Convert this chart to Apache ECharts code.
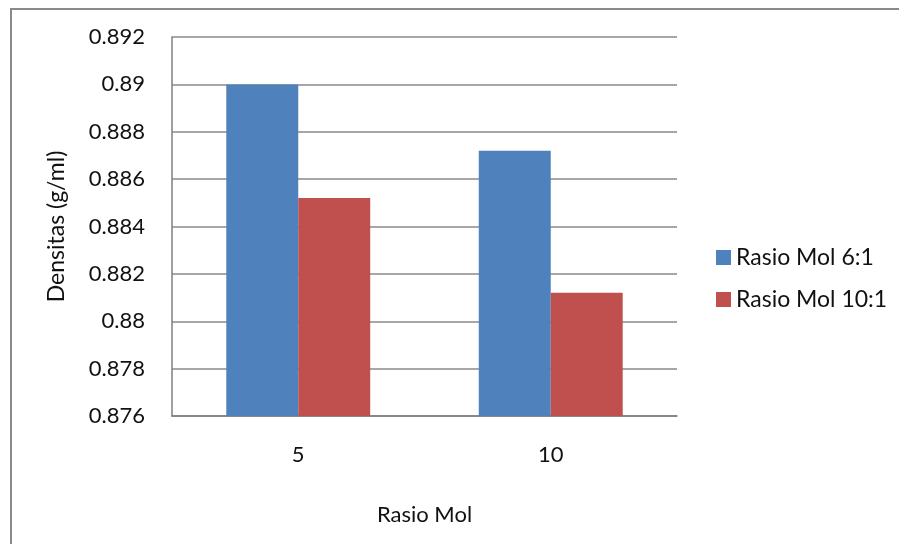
<!DOCTYPE html>
<html>
<head>
<meta charset="utf-8">
<script src="https://cdn.jsdelivr.net/npm/echarts@6/dist/echarts.min.js"></script>
<style>
  html, body { margin: 0; padding: 0; background: #fff; }
  #main { width: 899px; height: 544px; }
</style>
</head>
<body>
<div id="main"></div>
<script>
// 数据
var categories = ['5', '10'];
var rasio61 = [0.8900, 0.8872];
var rasio101 = [0.8852, 0.8812];
var seriesNames = ['Rasio Mol 6:1', 'Rasio Mol 10:1'];

var yMin = 0.876, yMax = 0.892, yStep = 0.002;

var myChart = echarts.init(document.getElementById('main'));

var fontName = 'Lato';

var option = {
    backgroundColor: '#ffffff',
    animation: false,
    textStyle: { fontFamily: fontName },
    graphic: [{
        type: 'rect',
        shape: { x: 11, y: 9, width: 1000, height: 700 },
        style: { fill: 'none', stroke: '#8a8a8a', lineWidth: 2 },
        silent: true
    }],
    legend: {
        orient: 'vertical',
        left: 711,
        top: 241,
        itemWidth: 15,
        itemHeight: 15,
        itemGap: 19,
        icon: 'rect',
        textStyle: { fontSize: 23, color: '#111', fontFamily: fontName },
        data: seriesNames
    },
    grid: {
        left: 172,
        right: 222,
        top: 37,
        bottom: 128
    },
    xAxis: {
        type: 'category',
        data: categories,
        name: 'Rasio Mol',
        nameLocation: 'middle',
        nameGap: 88,
        nameTextStyle: { fontSize: 22, color: '#111' },
        axisLine: { lineStyle: { color: '#7f7f7f', width: 1.5 } },
        axisTick: { show: false },
        axisLabel: { fontSize: 22, color: '#111', margin: 28 }
    },
    yAxis: {
        type: 'value',
        min: yMin,
        max: yMax,
        interval: yStep,
        name: 'Densitas (g/ml)',
        nameLocation: 'middle',
        nameGap: 104,
        nameTextStyle: { fontSize: 23, color: '#111' },
        axisLine: { show: true, lineStyle: { color: '#7f7f7f', width: 1.5 } },
        axisTick: { show: false },
        axisLabel: {
            fontSize: 22,
            color: '#111',
            margin: 27,
            formatter: function (v) { return String(parseFloat(v.toFixed(3))); }
        },
        splitLine: { lineStyle: { color: '#8a8a8a', width: 1.5 } }
    },
    series: [{
        name: seriesNames[0],
        type: 'bar',
        data: rasio61,
        barGap: '0%',
        barCategoryGap: '43%',
        itemStyle: { color: '#4f81bd' }
    }, {
        name: seriesNames[1],
        type: 'bar',
        data: rasio101,
        itemStyle: { color: '#c0504d' }
    }]
};

myChart.setOption(option);
</script>
</body>
</html>
